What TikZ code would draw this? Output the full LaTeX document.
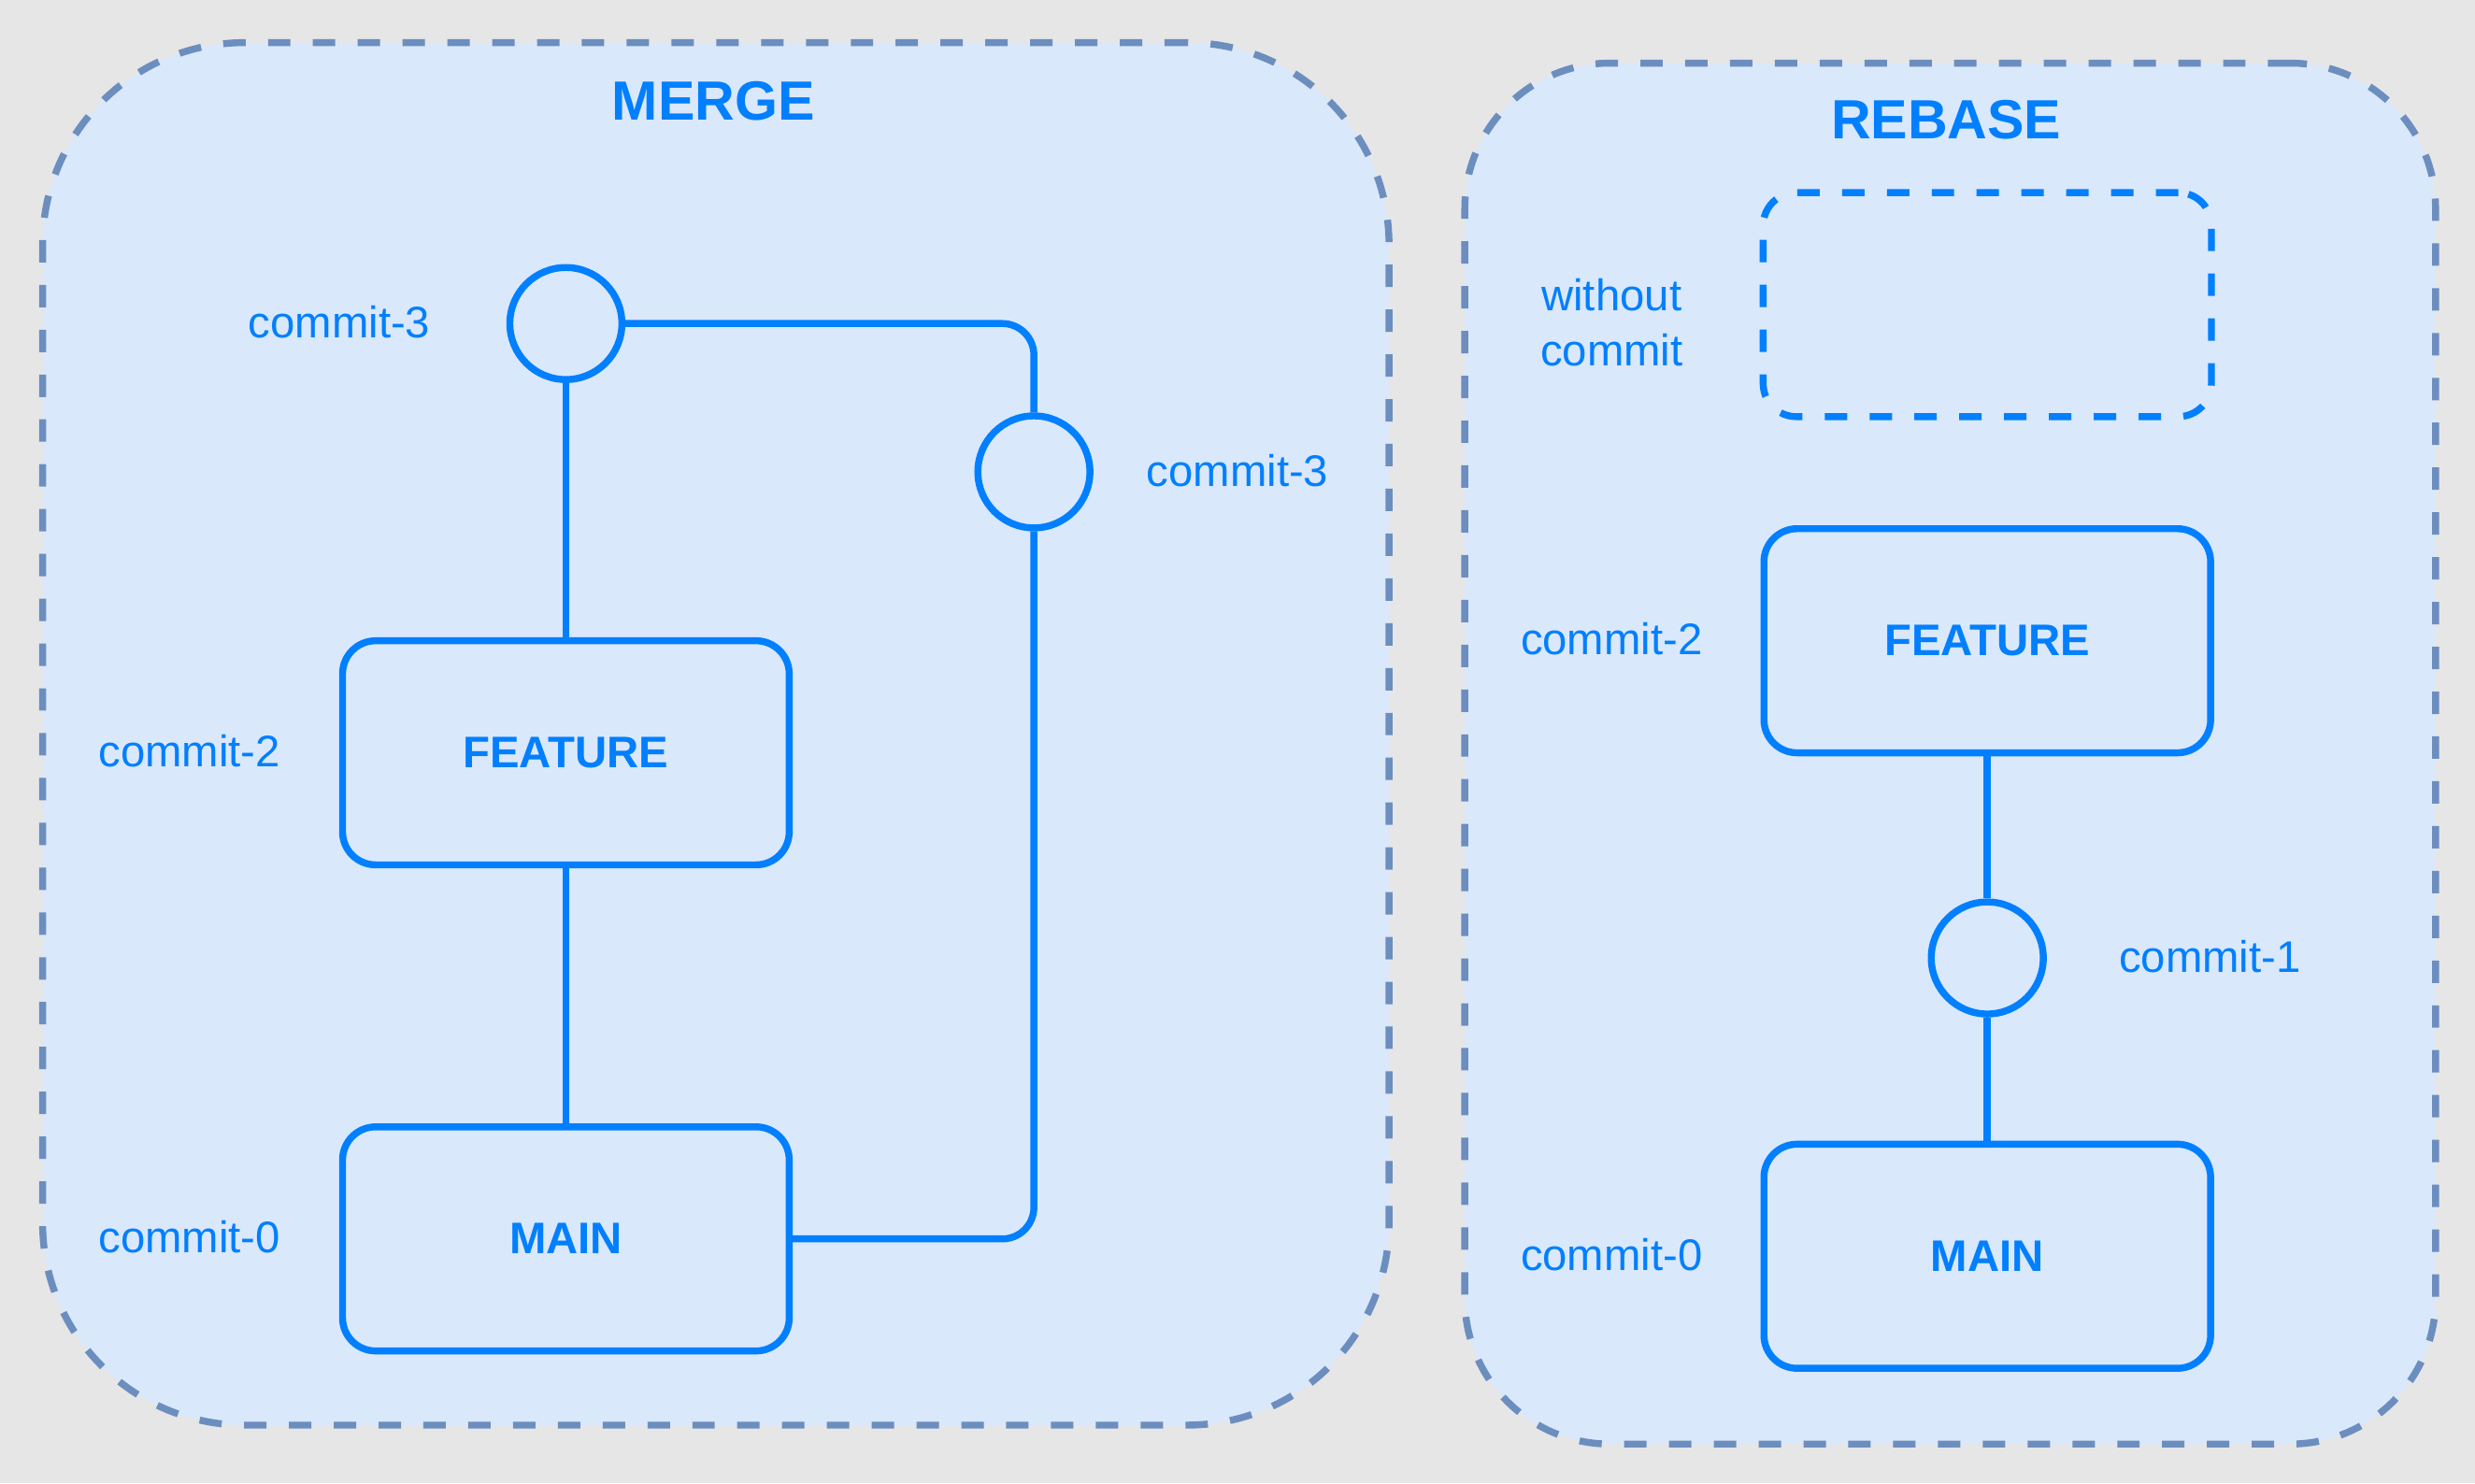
\documentclass[tikz,border=0pt]{standalone}
\usepackage{fontspec}
\setmainfont{Liberation Sans}
\definecolor{bggray}{HTML}{E6E6E6}
\definecolor{cfill}{HTML}{DAE8FC}
\definecolor{cborder}{HTML}{6C8EBF}
\definecolor{cblue}{HTML}{007FFF}
\tikzset{
  container/.style={rectangle, draw=cborder, fill=cfill, line width=4.4pt, dash pattern=on 14.2pt off 14.2pt, inner sep=0pt},
  branchbox/.style={rectangle, draw=cblue, line width=4.4pt, rounded corners=21pt, minimum width=283pt, minimum height=142pt, inner sep=0pt, text=cblue, font=\bfseries\fontsize{28}{34}\selectfont},
  ghostbox/.style={rectangle, draw=cblue, line width=4.4pt, dash pattern=on 14.2pt off 14.2pt, rounded corners=21pt, minimum width=284pt, minimum height=142pt, inner sep=0pt},
  commitc/.style={circle, draw=cblue, line width=4.4pt, minimum size=71pt, inner sep=0pt},
  lbl/.style={text=cblue, font=\fontsize{28}{35}\selectfont, inner sep=0pt},
  ttl/.style={text=cblue, font=\bfseries\fontsize{35}{42}\selectfont, inner sep=0pt},
  link/.style={draw=cblue, line width=4.4pt}
}
\begin{document}
\begin{tikzpicture}[x=1pt,y=-1pt]
\fill[bggray] (0,0) rectangle (1568,940);
\useasboundingbox (0,0) rectangle (1568,940);

% containers
\node[container, minimum width=853pt, minimum height=876pt, rounded corners=128pt] (mergebox) at (453.5,465) {};
\node[container, minimum width=615pt, minimum height=875pt, rounded corners=92pt] (rebasebox) at (1235.5,477.5) {};

% MERGE side
\node[ttl] (mergetitle) at (452,64) {MERGE};
\node[commitc] (mc3a) at (358.5,205) {};
\node[commitc] (mc3b) at (655,299) {};
\node[branchbox] (mfeat) at (358.5,477) {FEATURE};
\node[branchbox] (mmain) at (358.5,785) {MAIN};
\node[lbl] (lc3a) at (215,204) {commit-3};
\node[lbl] (lc3b) at (784,298) {commit-3};
\node[lbl] (lc2m) at (120,476) {commit-2};
\node[lbl] (lc0m) at (120,784) {commit-0};

\draw[link] (mc3a.south) -- (mfeat.north);
\draw[link] (mfeat.south) -- (mmain.north);
\draw[link, rounded corners=20pt] (mc3a.east) -| (mc3b.north);
\draw[link, rounded corners=20pt] (mmain.east) -| (mc3b.south);

% REBASE side
\node[ttl] (rebasetitle) at (1233,76) {REBASE};
\node[ghostbox] (rghost) at (1259,193) {};
\node[branchbox] (rfeat) at (1259,406) {FEATURE};
\node[commitc] (rc1) at (1259,607) {};
\node[branchbox] (rmain) at (1259,796) {MAIN};
\node[lbl, align=center] (lwo) at (1021,204.5) {without\\commit};
\node[lbl] (lc2r) at (1021,405) {commit-2};
\node[lbl] (lc1r) at (1400,606) {commit-1};
\node[lbl] (lc0r) at (1021,795) {commit-0};

\draw[link] (rfeat.south) -- (rc1.north);
\draw[link] (rc1.south) -- (rmain.north);
\end{tikzpicture}
\end{document}
